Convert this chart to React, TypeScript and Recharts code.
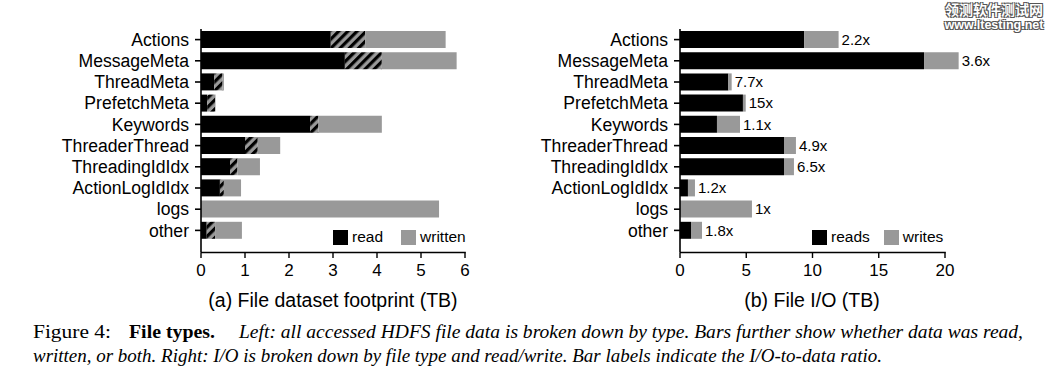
import { BarChart, Bar, XAxis, YAxis, LabelList } from 'recharts';

const categories = ['Actions', 'MessageMeta', 'ThreadMeta', 'PrefetchMeta', 'Keywords', 'ThreaderThread', 'ThreadingIdIdx', 'ActionLogIdIdx', 'logs', 'other'];

// (a) footprint, TB
const readOnly = [2.95, 3.27, 0.30, 0.14, 2.48, 1.0, 0.66, 0.43, 0, 0.13];
const readAndWritten = [0.78, 0.84, 0.19, 0.18, 0.19, 0.29, 0.17, 0.09, 0, 0.19];
const writtenOnly = [1.83, 1.70, 0.03, 0.01, 1.44, 0.51, 0.51, 0.39, 5.41, 0.61];
const footprintTicks = [0, 1, 2, 3, 4, 5, 6];

// (b) I/O, TB
const ioReads = [9.38, 18.42, 3.65, 4.75, 2.79, 7.85, 7.85, 0.60, 0, 0.83];
const ioWrites = [2.59, 2.61, 0.25, 0.21, 1.74, 0.90, 0.75, 0.53, 5.43, 0.83];
const ioRatios = ['2.2x', '3.6x', '7.7x', '15x', '1.1x', '4.9x', '6.5x', '1.2x', '1x', '1.8x'];
const ioTicks = [0, 5, 10, 15, 20];

const footprintData = categories.map((name, i) => ({
  name,
  read: readOnly[i],
  both: readAndWritten[i],
  written: writtenOnly[i],
}));

const ioData = categories.map((name, i) => ({
  name,
  reads: ioReads[i],
  writes: ioWrites[i],
  ratio: ioRatios[i],
}));

const SANS = '"Liberation Sans", Arial, sans-serif';
const SERIF = '"Liberation Serif", "Times New Roman", serif';
const GRAY = '#999999';

// draws tick, label, and the axis line (only up to the last tick)
function XTick(props: any) {
  const { x, y, payload, plotLeft, last } = props;
  return (
    <g>
      {payload.value === last && (
        <line x1={plotLeft} x2={x + 0.8} y1={y} y2={y} stroke="#000" strokeWidth={1.6} />
      )}
      <line x1={x} x2={x} y1={y} y2={y + 5.5} stroke="#000" strokeWidth={1.4} />
      <text x={x} y={y + 23.5} textAnchor="middle" fontSize={17} fontFamily={SANS} fill="#000">
        {payload.value}
      </text>
    </g>
  );
}

function LegendBox({ left, top, items }: { left: number; top: number; items: { label: string; color: string; gap: number }[] }) {
  return (
    <div style={{ position: 'absolute', left, top, display: 'flex', alignItems: 'center', fontFamily: SANS, fontSize: 15.5, color: '#000' }}>
      {items.map((it) => (
        <div key={it.label} style={{ display: 'flex', alignItems: 'center', marginRight: it.gap }}>
          <div style={{ width: 15, height: 15, background: it.color, marginRight: 4 }} />
          <span>{it.label}</span>
        </div>
      ))}
    </div>
  );
}

const yTick = { fontSize: 17.6, fill: '#000', fontFamily: SANS };

export default function App() {
  return (
    <div style={{ position: 'absolute', left: 0, top: 0, width: 1052, height: 384, background: '#fff', overflow: 'hidden' }}>
      {/* (a) */}
      <div style={{ position: 'absolute', left: 0, top: 0 }}>
        <BarChart width={480} height={290} data={footprintData} layout="vertical" margin={{ top: 29, right: 15, bottom: 0, left: 0 }}>
          <defs>
            <pattern id="hatch" patternUnits="userSpaceOnUse" width={6.5} height={6.5} patternTransform="rotate(45)">
              <rect width={6.5} height={6.5} fill={GRAY} />
              <rect width={3.2} height={6.5} fill="#000" />
            </pattern>
          </defs>
          <XAxis
            type="number"
            domain={[0, 6]}
            ticks={footprintTicks}
            interval={0}
            height={37.5}
            axisLine={false}
            tickLine={false}
            tickSize={0}
            tickMargin={0}
            tick={<XTick plotLeft={201} last={6} />}
          />
          <YAxis
            type="category"
            dataKey="name"
            width={201}
            padding={{ top: 0, bottom: 11.5 }}
            axisLine={{ stroke: '#000', strokeWidth: 1.6 }}
            tickLine={{ stroke: '#000', strokeWidth: 1.6 }}
            tickSize={6}
            tickMargin={6}
            interval={0}
            tick={yTick}
          />
          <Bar dataKey="read" stackId="a" fill="#000" barSize={17} isAnimationActive={false} />
          <Bar dataKey="both" stackId="a" fill="url(#hatch)" barSize={17} isAnimationActive={false} />
          <Bar dataKey="written" stackId="a" fill={GRAY} barSize={17} isAnimationActive={false} />
        </BarChart>
      </div>
      <LegendBox
        left={333}
        top={228}
        items={[
          { label: 'read', color: '#000', gap: 18 },
          { label: 'written', color: GRAY, gap: 0 },
        ]}
      />
      <div style={{ position: 'absolute', left: 183, width: 300, top: 289, textAlign: 'center', fontFamily: SANS, fontSize: 19.5, color: '#000' }}>
        (a) File dataset footprint (TB)
      </div>

      {/* (b) */}
      <div style={{ position: 'absolute', left: 480, top: 0 }}>
        <BarChart width={520} height={290} data={ioData} layout="vertical" margin={{ top: 29, right: 28.5, bottom: 0, left: 0 }}>
          <XAxis
            type="number"
            domain={[0, 22]}
            ticks={ioTicks}
            interval={0}
            height={37.5}
            axisLine={false}
            tickLine={false}
            tickSize={0}
            tickMargin={0}
            tick={<XTick plotLeft={200} last={20} />}
          />
          <YAxis
            type="category"
            dataKey="name"
            width={200}
            padding={{ top: 0, bottom: 11.5 }}
            axisLine={{ stroke: '#000', strokeWidth: 1.6 }}
            tickLine={{ stroke: '#000', strokeWidth: 1.6 }}
            tickSize={6}
            tickMargin={6}
            interval={0}
            tick={yTick}
          />
          <Bar dataKey="reads" stackId="b" fill="#000" barSize={17} isAnimationActive={false} />
          <Bar dataKey="writes" stackId="b" fill={GRAY} barSize={17} isAnimationActive={false}>
            <LabelList dataKey="ratio" position="right" offset={3} fontSize={15} fill="#000" fontFamily={SANS} />
          </Bar>
        </BarChart>
      </div>
      <LegendBox
        left={812}
        top={228}
        items={[
          { label: 'reads', color: '#000', gap: 14 },
          { label: 'writes', color: GRAY, gap: 0 },
        ]}
      />
      <div style={{ position: 'absolute', left: 662, width: 300, top: 289, textAlign: 'center', fontFamily: SANS, fontSize: 19.5, color: '#000' }}>
        (b) File I/O (TB)
      </div>

      {/* caption */}
      <svg style={{ position: 'absolute', left: 0, top: 310 }} width={1052} height={70}>
        <text x={33} y={28} fontFamily={SERIF} fontSize={18.5} textLength={78} lengthAdjust="spacingAndGlyphs">Figure 4:</text>
        <text x={129} y={28} fontFamily={SERIF} fontSize={18.5} fontWeight="bold" textLength={86} lengthAdjust="spacingAndGlyphs">File types.</text>
        <text x={239} y={28} fontFamily={SERIF} fontSize={18.5} fontStyle="italic" textLength={784} lengthAdjust="spacingAndGlyphs">
          Left: all accessed HDFS file data is broken down by type. Bars further show whether data was read,
        </text>
        <text x={33} y={52} fontFamily={SERIF} fontSize={18.5} fontStyle="italic" textLength={849} lengthAdjust="spacingAndGlyphs">
          written, or both. Right: I/O is broken down by file type and read/write. Bar labels indicate the I/O-to-data ratio.
        </text>
      </svg>

      {/* watermark */}
      <div style={{ position: 'absolute', right: 4, top: 1, width: 108, textAlign: 'center', color: '#fff', fontWeight: 'bold', textShadow: '-1px -1px 0 #555, 1px -1px 0 #555, -1px 1px 0 #555, 1px 1px 0 #555' }}>
        <div style={{ fontFamily: '"Noto Sans CJK SC", sans-serif', fontSize: 14, lineHeight: '17px', height: 17 }}>领测软件测试网</div>
        <div style={{ fontFamily: SANS, fontSize: 12.5, lineHeight: '14px', height: 14 }}>www.ltesting.net</div>
      </div>
    </div>
  );
}
